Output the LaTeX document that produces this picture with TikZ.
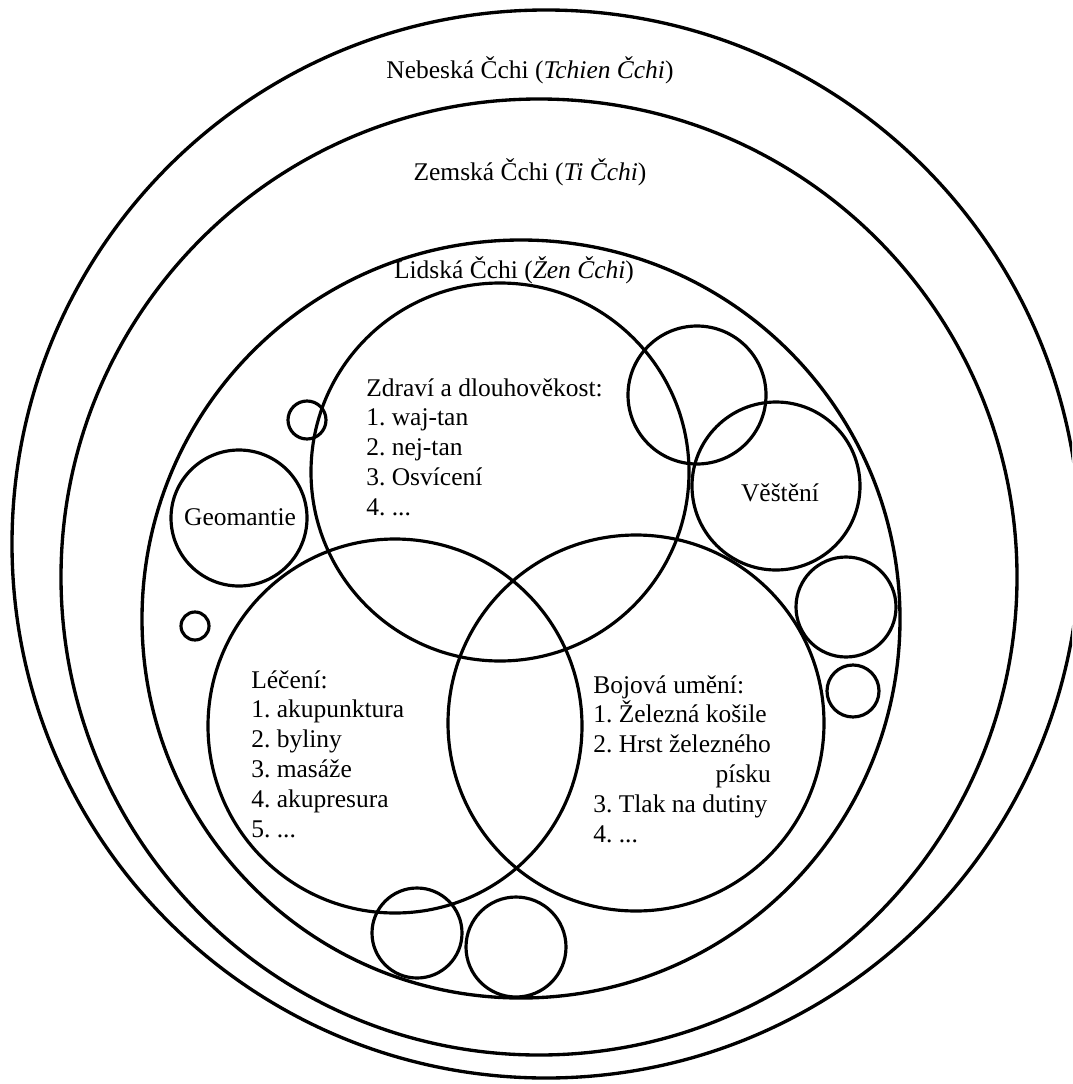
\documentclass[tikz,border=0pt]{standalone}
\usepackage{fontspec}
\setmainfont{Liberation Serif}
\frenchspacing

\begin{document}
\begin{tikzpicture}[x=0.2mm,y=-0.2mm,
  every node/.style={font=\fontsize{14.5}{17}\selectfont},
  ring/.style={line width=1.9pt},
  bubble/.style={line width=1.8pt},
  lst/.style={anchor=north west,align=left,inner sep=0pt}]
 \useasboundingbox (0,0) rectangle (1072,1084);
 \clip (0,0) rectangle (1072,1084);
 % three levels of Cchi
 \draw[ring] (546,544) circle[radius=534];
 \draw[ring] (539,577) circle[radius=478];
 \draw[ring] (521,619) circle[radius=379];
 \node (nebe) at (530,70)  {Nebeská Čchi (\textit{Tchien Čchi})};
 \node (zeme) at (530,172) {Zemská Čchi (\textit{Ti Čchi})};
 \node (lid)  at (514,270) {Lidská Čchi (\textit{Žen Čchi})};
 % the three big circles
 \draw[bubble] (500,472) circle[radius=189];
 \draw[bubble] (395,726) circle[radius=187];
 \draw[bubble] (636,723) circle[radius=188];
 \node[lst] (zdravi) at (366,378) {Zdraví a dlouhověkost:\\1. waj-tan\\2. nej-tan\\3. Osvícení\\4. ...};
 \node[lst] (leceni) at (251,670) {Léčení:\\1. akupunktura\\2. byliny\\3. masáže\\4. akupresura\\5. ...};
 \node[lst] (boj)    at (593,675) {Bojová umění:\\1. Železná košile\\2. Hrst železného\\\hphantom{2. Hrst železného}\llap{písku}\\3. Tlak na dutiny\\4. ...};
 % smaller circles round them
 \draw[bubble] (239,518) circle[radius=68];
 \node (geo) at (240,517) {Geomantie};
 \draw[bubble] (776,486) circle[radius=84];
 \node (vest) at (780,493) {Věštění};
 \draw[bubble] (697,395) circle[radius=69];
 \draw[bubble] (307,420) circle[radius=19];
 \draw[bubble] (195,626) circle[radius=14];
 \draw[bubble] (846,607) circle[radius=50];
 \draw[bubble] (853,691) circle[radius=26];
 \draw[bubble] (417,933) circle[radius=45];
 \draw[bubble] (516,947) circle[radius=50];
\end{tikzpicture}
\end{document}
